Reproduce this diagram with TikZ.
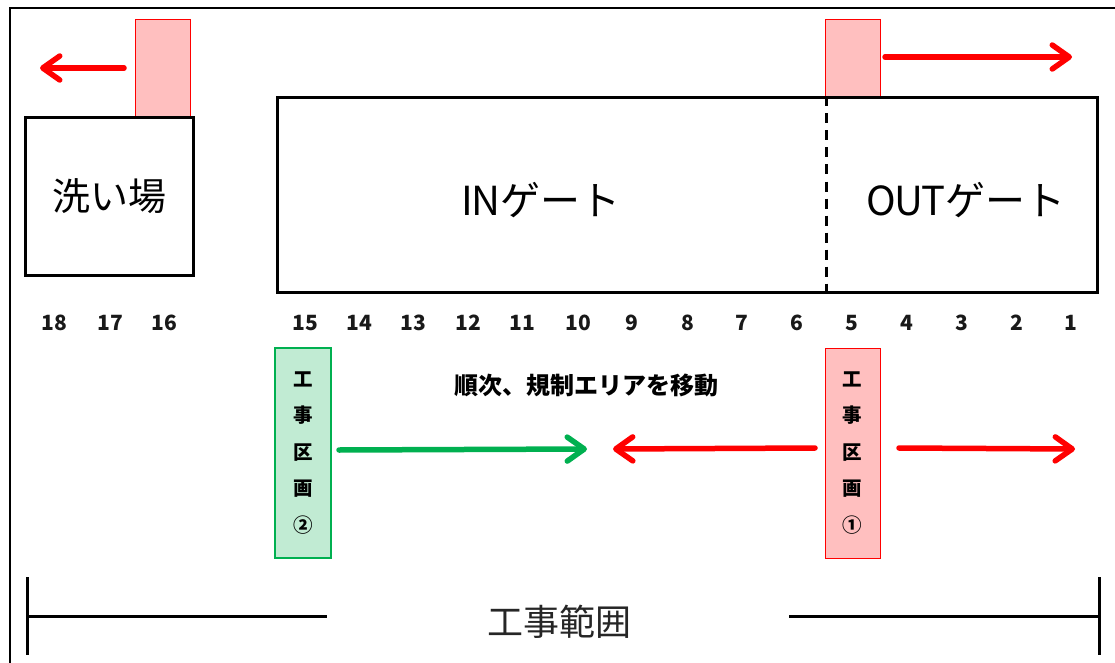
\documentclass[tikz,border=0pt]{standalone}
\usepackage{fontspec}
\setmainfont{Noto Sans CJK JP}
\usetikzlibrary{arrows.meta}
\definecolor{pinkfill}{HTML}{FFBFBF}
\definecolor{rd}{HTML}{FF0000}
\definecolor{gr}{HTML}{00B050}
\definecolor{grfill}{HTML}{C1EBD3}
\begin{document}
\begin{tikzpicture}[x=1pt,y=-1pt,
  frame/.style={draw=black, line width=2pt},
  bigbox/.style={draw=black, line width=3pt, rectangle, inner sep=0pt},
  pinkrect/.style={draw=rd, line width=1pt, fill=pinkfill, rectangle, inner sep=0pt},
  greenrect/.style={draw=gr, line width=1.5pt, fill=grfill, rectangle, inner sep=0pt},
  tip/.style={-{Straight Barb[length=17pt,width=24pt,round]}, line width=5.5pt, line cap=round},
  redarrow/.style={tip, draw=rd},
  greenarrow/.style={tip, draw=gr},
  numlabel/.style={font=\bfseries\fontsize{21pt}{21pt}\selectfont, text=black!90},
  vtext/.style={font=\bfseries\fontsize{19.5pt}{36.5pt}\selectfont, align=center},
  rangeline/.style={draw=black, line width=3pt}
]
\useasboundingbox (0,0) rectangle (1115,663);
% outer frame (left and top edges)
\coordinate (fbl) at (9.5,663);
\coordinate (ftl) at (9.5,8.5);
\coordinate (ftr) at (1115,8.5);
\draw[frame] (fbl) -- (ftl) -- (ftr);

% top pink areas
\node[pinkrect, minimum width=55pt, minimum height=98pt] (pinkL) at (162.5,69) {};
\node[pinkrect, minimum width=55pt, minimum height=78pt] (pinkR) at (852.5,59) {};

% wash area
\node[bigbox, minimum width=168pt, minimum height=157pt,
      font=\fontsize{38pt}{38pt}\selectfont] (wash) at (109,196.5) {洗い場};

% gate box
\node[bigbox, minimum width=820pt, minimum height=194pt] (gate) at (687,195) {};
\coordinate (split) at (826,195);
\draw[black, line width=3pt, dash pattern=on 10pt off 7pt] (split |- gate.north) -- (split |- gate.south);
\node[font=\fontsize{40pt}{40pt}\selectfont] (intext) at (541,200) {I\kern-1ptNゲート};
\node[font=\fontsize{40pt}{40pt}\selectfont] (outtext) at (966,200) {O\kern-2ptU\kern-2ptTゲート};

% top arrows
\coordinate (tlA) at (124,68);
\coordinate (tlB) at (40,68);
\draw[redarrow] (tlA) -- (tlB);
\coordinate (trA) at (885,57);
\coordinate (trB) at (1072,57);
\draw[redarrow] (trA) -- (trB);

% numbers
\foreach \n/\x in {18/54,17/110,16/164,15/305,14/359,13/413,12/468,11/522,10/578,9/632,8/688,7/742,6/797,5/852,4/907,3/962,2/1017,1/1071}
  \node[numlabel] (num\n) at (\x,323) {\n};

% construction sections
\node[greenrect, minimum width=56pt, minimum height=210pt] (sec2) at (303,453) {};
\node[vtext] (sec2t) at (sec2.center) {工\\事\\区\\画\\②};
\node[pinkrect, minimum width=55pt, minimum height=210pt] (sec1) at (852.5,453) {};
\node[vtext] (sec1t) at (sec1.center) {工\\事\\区\\画\\①};

\node[font=\bfseries\fontsize{24pt}{24pt}\selectfont] (caption) at (586,385) {順次、規制エリアを移動};

% bottom arrows
\coordinate (gA) at (339,450);
\coordinate (gB) at (587,449);
\draw[greenarrow] (gA) -- (gB);
\coordinate (rlA) at (815,448);
\coordinate (rlB) at (613,449);
\draw[redarrow] (rlA) -- (rlB);
\coordinate (rrA) at (899,448);
\coordinate (rrB) at (1075,449);
\draw[redarrow] (rrA) -- (rrB);

% range
\node[font=\fontsize{36pt}{36pt}\selectfont, text=black!85] (range) at (559,622) {工事範囲};
\coordinate (rL) at (27,616);
\coordinate (rLgap) at (327,616);
\coordinate (rRgap) at (789,616);
\coordinate (rR) at (1099,616);
\draw[rangeline] (rL) ++(0,-39) -- ++(0,78);
\draw[rangeline] (rR) ++(0,-39) -- ++(0,78);
\draw[rangeline] (rL) -- (rLgap);
\draw[rangeline] (rRgap) -- (rR);
\end{tikzpicture}
\end{document}
